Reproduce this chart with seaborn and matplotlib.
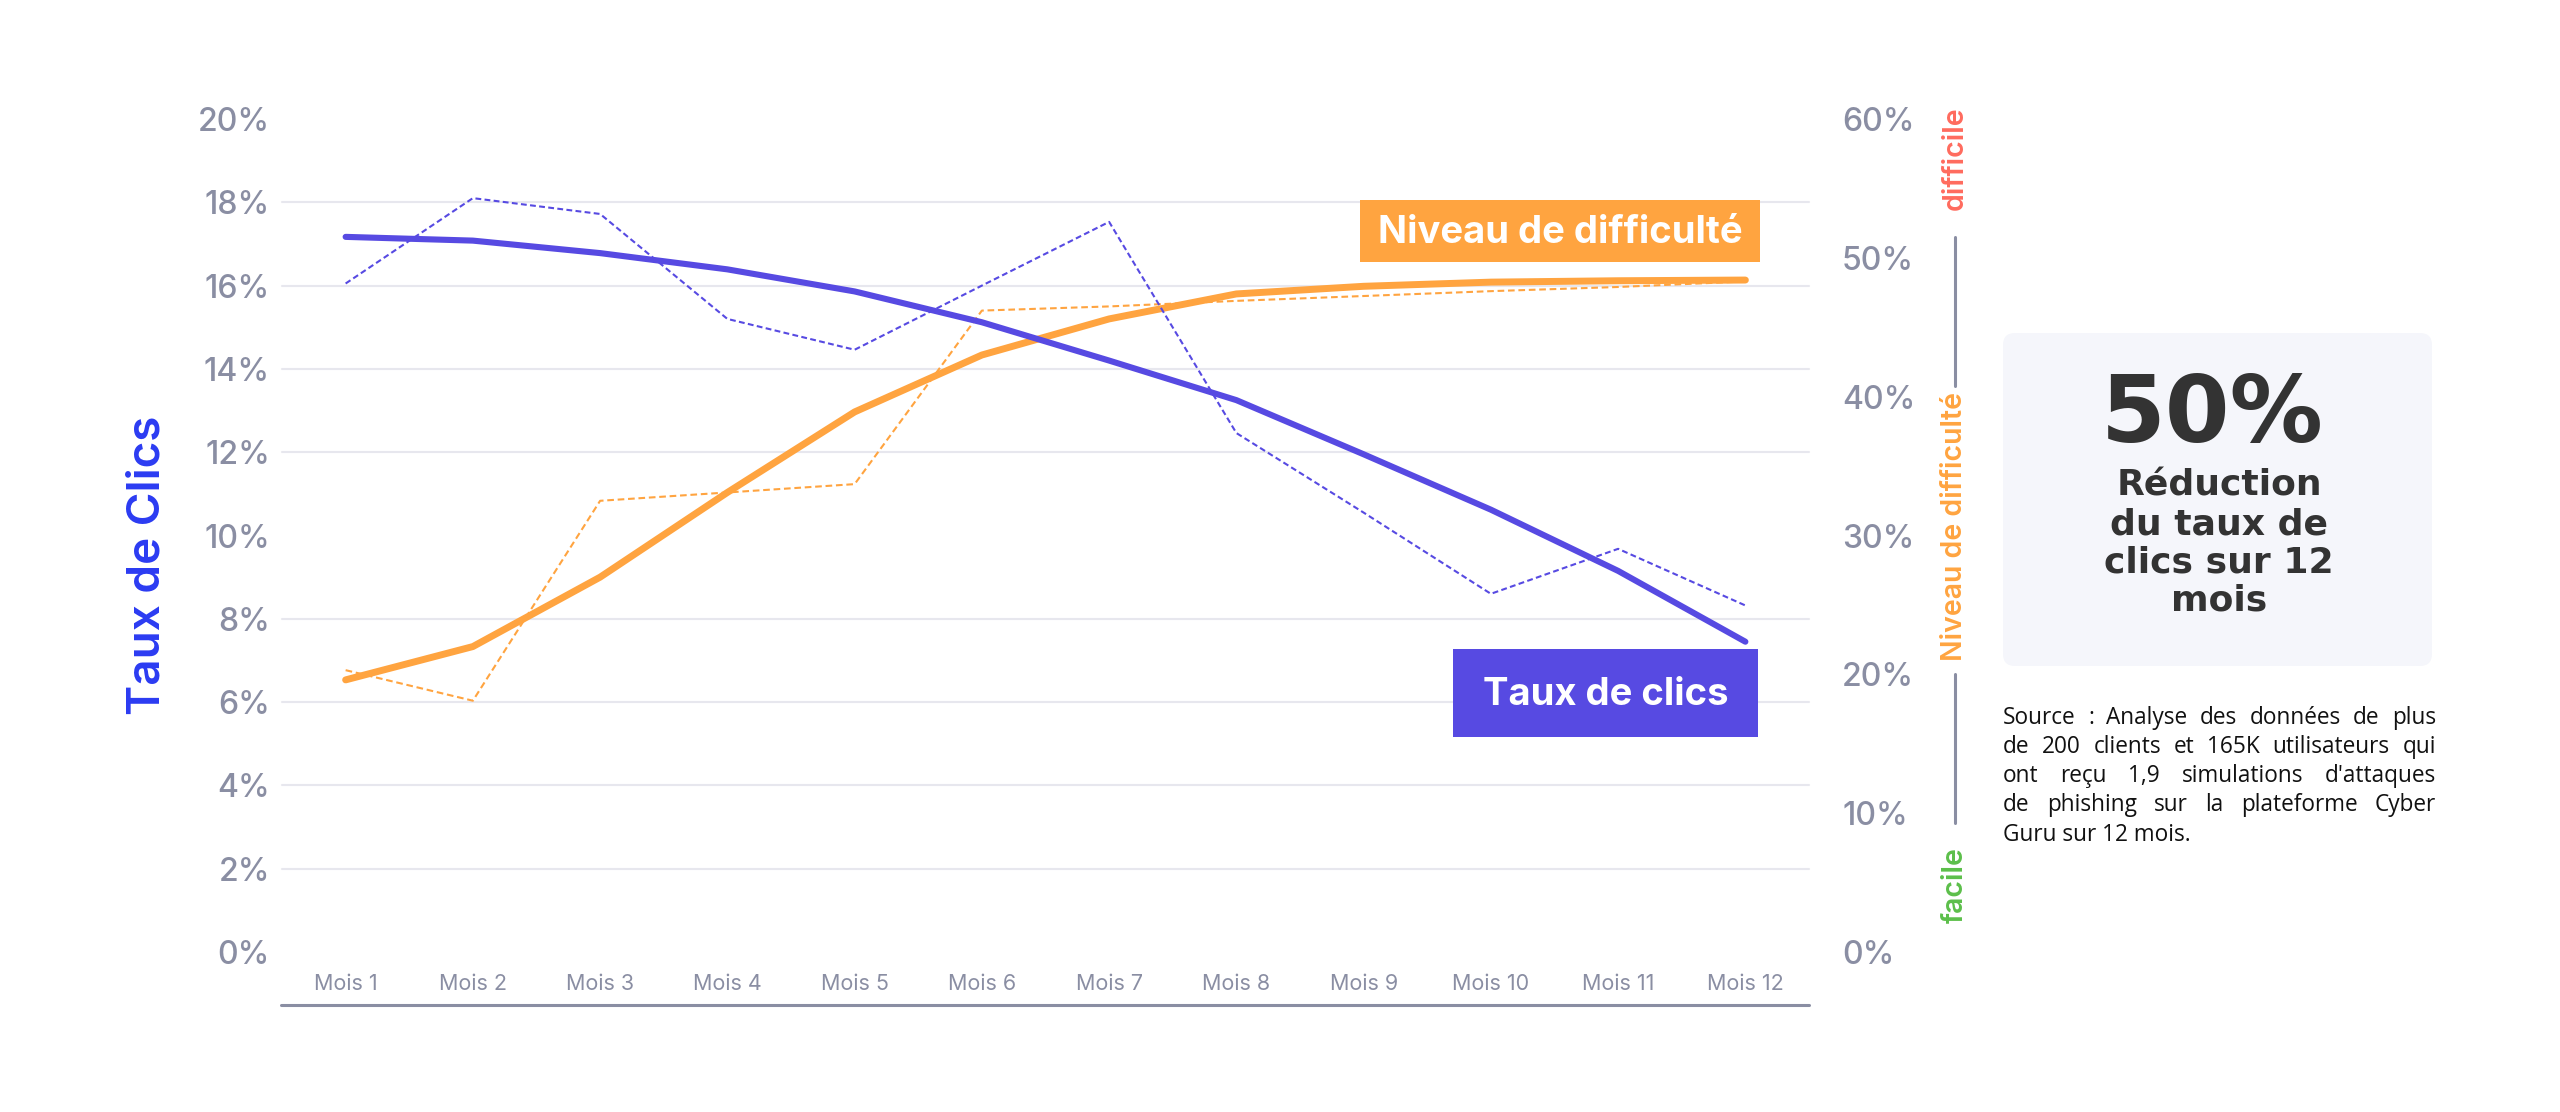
import matplotlib
matplotlib.use("Agg")
import matplotlib.pyplot as plt
import seaborn as sns
import pandas as pd
import numpy as np
from matplotlib.patches import Rectangle, FancyBboxPatch
from matplotlib.lines import Line2D
from matplotlib.ticker import MultipleLocator
from matplotlib.transforms import IdentityTransform

# ---------------- data ----------------
mois = ["Mois 1", "Mois 2", "Mois 3", "Mois 4", "Mois 5", "Mois 6",
        "Mois 7", "Mois 8", "Mois 9", "Mois 10", "Mois 11", "Mois 12"]
taux_clics = [16.05, 18.1, 17.72, 15.2, 14.46, 16.0, 17.53, 12.46, 10.55, 8.6, 9.68, 8.32]
taux_clics_tendance = [17.17, 17.08, 16.78, 16.39, 15.86, 15.12, 14.2, 13.25, 11.95, 10.62, 9.15, 7.45]
niveau_difficulte = [20.3, 18.1, 32.5, 33.1, 33.7, 46.2, 46.5, 46.9, 47.25, 47.6, 47.9, 48.3]
niveau_difficulte_tendance = [19.6, 22.0, 27.0, 33.1, 38.9, 43.0, 45.6, 47.4, 47.95, 48.25, 48.35, 48.4]
ticks_gauche = [0, 2, 4, 6, 8, 10, 12, 14, 16, 18, 20]
ticks_droite = [0, 10, 20, 30, 40, 50, 60]

titre_gauche = "Taux de Clics"
etiquette_difficulte = "Niveau de difficulté"
etiquette_clics = "Taux de clics"
echelle_haut = "difficile"
echelle_bas = "facile"
chiffre_cle = "50%"
texte_cle = ["Réduction", "du taux de", "clics sur 12", "mois"]
source_lignes = ["Source : Analyse des données de plus",
                 "de 200 clients et 165K utilisateurs qui",
                 "ont reçu 1,9 simulations d'attaques",
                 "de phishing sur la plateforme Cyber",
                 "Guru sur 12 mois."]

# ---------------- style ----------------
PURPLE = "#574AE2"
ORANGE = "#FFA440"
GRAY = "#8A8EA3"
GRID = "#E7E7EE"
BLUE = "#2B3BF2"
RED = "#FF6B5E"
GREEN = "#5CBF4A"
DARK = "#333333"
PANEL = "#F5F6FB"

sns.set_theme(style="white")
plt.rcParams['font.family'] = ['Inter', 'DejaVu Sans']

W, H = 2560, 1112
fig = plt.figure(figsize=(W / 100, H / 100), dpi=100)
fig.patch.set_facecolor("white")


def fx(px):
    return px / W


def fy(py):
    return 1 - py / H


rect = [fx(282), fy(952), fx(1809) - fx(282), fy(119) - fy(952)]
ax = fig.add_axes(rect)
ax2 = ax.twinx()
ax.set_zorder(3)
ax2.set_zorder(2)
ax.patch.set_visible(False)

xpos = np.arange(len(mois))
df = pd.DataFrame({
    "x": xpos,
    "mois": mois,
    "taux_clics": taux_clics,
    "taux_tendance": taux_clics_tendance,
    "difficulte": niveau_difficulte,
    "difficulte_tendance": niveau_difficulte_tendance,
})

sns.lineplot(data=df, x="x", y="difficulte", ax=ax2, color=ORANGE,
             linewidth=1.5, linestyle=(0, (3.2, 1.8)))
sns.lineplot(data=df, x="x", y="difficulte_tendance", ax=ax2, color=ORANGE,
             linewidth=5.0, solid_capstyle="round", solid_joinstyle="round")
sns.lineplot(data=df, x="x", y="taux_clics", ax=ax, color=PURPLE,
             linewidth=1.5, linestyle=(0, (2.8, 1.6)))
sns.lineplot(data=df, x="x", y="taux_tendance", ax=ax, color=PURPLE,
             linewidth=4.4, solid_capstyle="round", solid_joinstyle="round")

for a in (ax, ax2):
    a.set_xlabel("")
    a.set_ylabel("")
    for s in a.spines.values():
        s.set_visible(False)

ax.set_xlim(-0.5, len(mois) - 0.5)
ax.set_ylim(0, 20)
ax2.set_ylim(0, 60)

ax.set_yticks(ticks_gauche)
ax.set_yticklabels([f"{v}%" for v in ticks_gauche])
ax2.set_yticks(ticks_droite)
ax2.set_yticklabels([f"{v}%" for v in ticks_droite])
ax.set_xticks(xpos)
ax.set_xticklabels(mois)

ax.tick_params(axis="y", length=0, pad=8.6, labelsize=23, labelcolor=GRAY)
ax2.tick_params(axis="y", which="major", length=0, pad=23.8, labelsize=23, labelcolor=GRAY)
ax.tick_params(axis="x", length=0, pad=15.5, labelsize=15.5, labelcolor=GRAY)
for lbl in ax.get_yticklabels() + ax2.get_yticklabels():
    lbl.set_fontweight("medium")

ax.grid(False)
ax2.yaxis.set_minor_locator(MultipleLocator(6))
ax2.tick_params(axis="y", which="minor", length=0)
ax2.grid(False, which="major")
ax2.grid(True, which="minor", axis="y", color=GRID, linewidth=1.5)
for t in ax2.yaxis.get_minor_ticks():
    t.gridline.set_clip_on(False)

# bottom axis line
fig.add_artist(Line2D([fx(281), fx(1809)], [fy(1004.5), fy(1004.5)], color=GRAY, lw=2.2))

# y label left
fig.text(fx(147), fy(565), titre_gauche, rotation=90, ha="center", va="center",
         color=BLUE, fontsize=33, fontweight="semibold")

# right scale labels
fig.text(fx(1955), fy(158.5), echelle_haut, rotation=90, ha="center", va="center",
         color=RED, fontsize=20.5, fontweight="semibold")
fig.text(fx(1955), fy(526.5), etiquette_difficulte, rotation=90, ha="center", va="center",
         color=ORANGE, fontsize=20.5, fontweight="semibold")
fig.text(fx(1955), fy(885), echelle_bas, rotation=90, ha="center", va="center",
         color=GREEN, fontsize=20.5, fontweight="semibold")
fig.add_artist(Line2D([fx(1955), fx(1955)], [fy(237), fy(386)], color=GRAY, lw=2.2))
fig.add_artist(Line2D([fx(1955), fx(1955)], [fy(674), fy(823)], color=GRAY, lw=2.2))

# series label boxes
fig.add_artist(Rectangle((fx(1360), fy(262)), fx(1760) - fx(1360), fy(200) - fy(262),
                         transform=fig.transFigure, facecolor=ORANGE, edgecolor="none", zorder=5))
fig.text(fx(1560), fy(243.3), etiquette_difficulte, ha="center", va="baseline", color="white",
         fontsize=27.5, fontweight="bold", zorder=6)
fig.add_artist(Rectangle((fx(1453), fy(737)), fx(1758) - fx(1453), fy(649) - fy(737),
                         transform=fig.transFigure, facecolor=PURPLE, edgecolor="none", zorder=5))
fig.text(fx(1605.5), fy(705), etiquette_clics, ha="center", va="baseline", color="white",
         fontsize=27.5, fontweight="bold", zorder=6)

# key figure panel
fig.add_artist(FancyBboxPatch((2003, H - 666), 429, 333,
                              boxstyle="round,pad=0,rounding_size=12",
                              transform=IdentityTransform(), facecolor=PANEL, edgecolor="none"))
fig.text(fx(2212), fy(442), chiffre_cle, ha="center", va="baseline", color=DARK,
         fontsize=67, fontweight="bold", family=["DejaVu Sans"])
for i, line in enumerate(texte_cle):
    fig.text(fx(2219), fy(495.7 + i * 38.4), line, ha="center", va="baseline", color=DARK,
             fontsize=26, fontweight="bold", family=["DejaVu Sans"])

# justified source text
fig.canvas.draw()
renderer = fig.canvas.get_renderer()
x_left, x_right = 2003, 2436
src_font = dict(fontsize=16.3, color="#111111", family=["Open Sans", "DejaVu Sans"])
for i, line in enumerate(source_lignes):
    yb = fy(723.5 + i * 29.3)
    if i == len(source_lignes) - 1:
        fig.text(fx(x_left), yb, line, ha="left", va="baseline", **src_font)
        continue
    words = line.split(" ")
    texts = [fig.text(0, yb, w, ha="left", va="baseline", **src_font) for w in words]
    widths = [t.get_window_extent(renderer).width for t in texts]
    gap = (x_right - x_left - sum(widths)) / (len(words) - 1)
    cur = x_left
    for t, wdt in zip(texts, widths):
        t.set_x(fx(cur))
        cur += wdt + gap

fig.savefig("out.png", dpi=100, facecolor="white")
